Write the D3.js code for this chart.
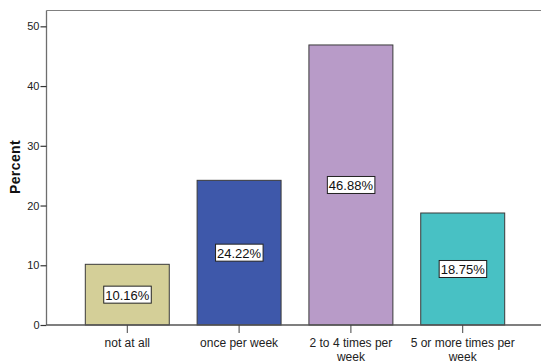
<!DOCTYPE html>
<html>
<head>
<meta charset="utf-8">
<script src="https://cdn.jsdelivr.net/npm/d3@7"></script>
<style>
  html, body { margin: 0; padding: 0; background: #fff; }
  svg { display: block; }
  text { font-family: "Liberation Sans", Arial, sans-serif; }
</style>
</head>
<body>
<svg id="chart" width="541" height="363"></svg>
<script>
// Frequency of activity, percent of respondents
const categories = ["not at all", "once per week", "2 to 4 times per week", "5 or more times per week"];
const categoryLines = [["not at all"], ["once per week"], ["2 to 4 times per", "week"], ["5 or more times per", "week"]];
const percents = [10.16, 24.22, 46.88, 18.75];
const barColors = ["#d4cf98", "#3e58aa", "#b89bc8", "#48c1c4"];
const yTicks = [0, 10, 20, 30, 40, 50];

const svg = d3.select("#chart");
const plotLeft = 46.5, plotTop = 10.5, plotRight = 543.5, plotBottom = 325;

const y = d3.scaleLinear().domain([0, 52.65]).range([plotBottom, plotTop]);
const x = d3.scaleBand().domain(categories).range([plotLeft, plotRight])
  .paddingInner(0.249).paddingOuter(0.347);

// Frame: top edge
svg.append("line").attr("x1", plotLeft).attr("x2", 541).attr("y1", plotTop).attr("y2", plotTop)
  .attr("stroke", "#808080").attr("stroke-width", 1.2);

// Y axis
const yAxis = svg.append("g").attr("transform", `translate(${plotLeft},0)`)
  .call(d3.axisLeft(y).tickValues(yTicks).tickSize(6).tickPadding(1).tickFormat(d3.format("d")));
yAxis.select(".domain").attr("stroke", "#6e6e6e").attr("stroke-width", 1.3).attr("d", `M0,${plotTop}V${plotBottom}`);
yAxis.selectAll(".tick line").attr("stroke", "#333").attr("stroke-width", 1.2);
yAxis.selectAll(".tick text").attr("font-size", 11).attr("fill", "#222")
  .attr("font-family", "'Liberation Sans', Arial, sans-serif");

// Y axis title
svg.append("text").attr("transform", `translate(20,167) rotate(-90)`)
  .attr("text-anchor", "middle").attr("font-size", 14).attr("font-weight", "bold")
  .attr("letter-spacing", 0.4).attr("fill", "#111").text("Percent");

// Bars
svg.append("g").selectAll("rect").data(percents).join("rect")
  .attr("x", (d, i) => x(categories[i]))
  .attr("y", d => y(d))
  .attr("width", x.bandwidth())
  .attr("height", d => plotBottom - y(d))
  .attr("fill", (d, i) => barColors[i])
  .attr("stroke", "#3a3a3a").attr("stroke-width", 1);

// X axis line
svg.append("line").attr("x1", plotLeft).attr("x2", 541).attr("y1", plotBottom).attr("y2", plotBottom)
  .attr("stroke", "#555").attr("stroke-width", 1.3);

// X ticks and category labels
const xg = svg.append("g");
categories.forEach((c, i) => {
  const cx = x(c) + x.bandwidth() / 2;
  xg.append("line").attr("x1", cx).attr("x2", cx).attr("y1", plotBottom).attr("y2", plotBottom + 8)
    .attr("stroke", "#444").attr("stroke-width", 1);
  const t = xg.append("text").attr("x", cx).attr("y", plotBottom + 22)
    .attr("text-anchor", "middle").attr("font-size", 12).attr("fill", "#222");
  categoryLines[i].forEach((line, j) => {
    t.append("tspan").attr("x", cx).attr("dy", j === 0 ? 0 : 14).text(line);
  });
});

// Value labels in white boxes at bar mid-height
const lg = svg.append("g");
percents.forEach((d, i) => {
  const cx = x(categories[i]) + x.bandwidth() / 2;
  const cy = (y(d) + plotBottom) / 2;
  const label = d.toFixed(2) + "%";
  const t = lg.append("text").attr("x", cx).attr("y", cy + 5)
    .attr("text-anchor", "middle").attr("font-size", 13).attr("fill", "#111").text(label);
  const bb = t.node().getBBox();
  lg.insert("rect", "text")
    .attr("x", bb.x - 1.5).attr("y", cy - 8.5)
    .attr("width", bb.width + 3).attr("height", 17)
    .attr("fill", "#fff").attr("stroke", "#222").attr("stroke-width", 1);
});
</script>
</body>
</html>
